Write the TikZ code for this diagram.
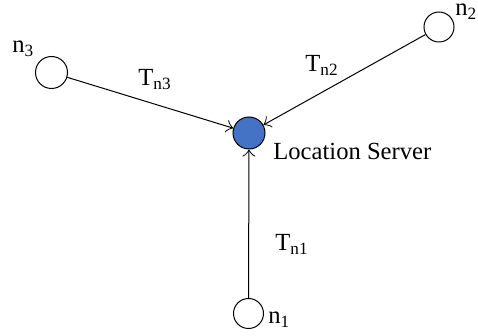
\documentclass[tikz,border=0pt]{standalone}
\usepackage{fontspec}
\setmainfont{Liberation Serif}
\usetikzlibrary{arrows.meta}
\definecolor{srvblue}{HTML}{4472C4}
\tikzset{
  nodecirc/.style={circle, draw=black, line width=0.5pt, inner sep=0pt, fill=white},
  conn/.style={line width=0.5pt, -{Classical TikZ Rightarrow[length=3.5pt,width=6.5pt]}},
  lbl/.style={inner sep=0pt, anchor=base west, font=\fontsize{12.3}{14}\selectfont}
}
\begin{document}
\begin{tikzpicture}[x=0.5pt,y=-0.5pt]
\useasboundingbox (0,0) rectangle (478,336);
\node[nodecirc, fill=srvblue, minimum size=16pt] (s) at (249,133) {};
\node[nodecirc, minimum size=16pt] (n3) at (51.5,72.5) {};
\node[nodecirc, minimum size=15pt] (n2) at (439,27) {};
\node[nodecirc, minimum size=15pt] (n1) at (248.5,313.5) {};
\draw[conn] (n3) -- (s);
\draw[conn] (n2) -- (s);
\draw[conn] (n1) -- (s);
\node[lbl] (l3) at (12,53) {n\textsubscript{3}};
\node[lbl] (l2) at (455,16) {n\textsubscript{2}};
\node[lbl] (l1) at (268,324) {n\textsubscript{1}};
\node[lbl] (t3) at (138,86) {T\textsubscript{n3}};
\node[lbl] (t2) at (305,72) {T\textsubscript{n2}};
\node[lbl] (t1) at (275,251) {T\textsubscript{n1}};
\node[lbl] (ls) at (273,160) {Location Server};
\end{tikzpicture}
\end{document}
